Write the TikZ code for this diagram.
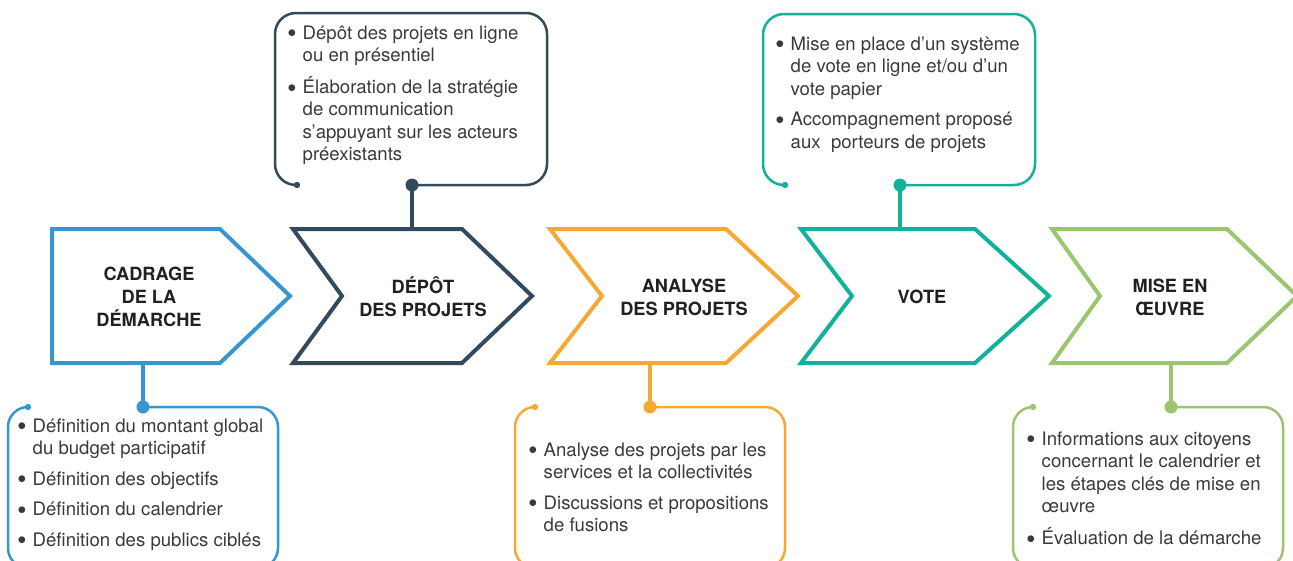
\documentclass[tikz,border=0pt]{standalone}
\usepackage{fontspec}
\setmainfont{TeX Gyre Heros}
\definecolor{cbleu}{HTML}{3597CD}
\definecolor{cmarine}{HTML}{33495C}
\definecolor{corange}{HTML}{F7A833}
\definecolor{cturq}{HTML}{12B29A}
\definecolor{cvert}{HTML}{9DC46E}
\definecolor{titre}{HTML}{231F20}
\definecolor{txt}{HTML}{3A3A3A}
\newcommand{\blt}{\makebox[13.5pt][l]{\hspace{-1.5pt}\raisebox{1.2pt}{$\bullet$}}}
\begin{document}
\begin{tikzpicture}[x = 1pt, y = -1pt,
    chevron/.style = {line width = 4pt, line join = miter},
    boite/.style = {line width = 2.5pt, rounded corners = 20pt},
    lien/.style = {line width = 3.5pt},
    etape/.style = {font = \fontsize{18.2}{23}\selectfont\bfseries, align = center, text = titre},
    liste/.style = {anchor = base west, inner sep = 0pt, font = \fontsize{18.6}{22.5}\selectfont, text = txt}]
                \clip (0, 0) rectangle (1293, 560);
                \draw[chevron, cbleu] (52, 229) -- (220, 229) -- (290, 296) -- (220, 363) -- (52, 363) -- cycle;
                \draw[chevron, cmarine] (293, 229) -- (462, 229) -- (532, 296) -- (462, 363) -- (293, 363) -- (342, 296) -- cycle;
                \draw[chevron, corange] (550, 229) -- (726, 229) -- (798, 296) -- (726, 363) -- (550, 363) -- (602, 296) -- cycle;
                \draw[chevron, cturq] (801, 229) -- (975, 229) -- (1049, 296) -- (975, 363) -- (801, 363) -- (852, 296) -- cycle;
                \draw[chevron, cvert] (1052, 229) -- (1227, 229) -- (1297, 296) -- (1227, 363) -- (1052, 363) -- (1100, 296) -- cycle;
                \node[etape] (cadrage) at (149, 297) {CADRAGE\\DE LA\\DÉMARCHE};
                \node[etape] (depot) at (423, 297) {DÉPÔT\\DES PROJETS};
                \node[etape] (analyse) at (684, 297) {ANALYSE\\DES PROJETS};
                \node[etape] (vote) at (922, 297) {VOTE};
                \node[etape] (mise) at (1170, 297) {MISE EN\\ŒUVRE};
                \coordinate (b1) at (143, 363); \coordinate (p1) at (143, 407);
                \coordinate (b2) at (412, 229); \coordinate (p2) at (412, 185);
                \coordinate (b3) at (650, 363); \coordinate (p3) at (650, 407);
                \coordinate (b4) at (900, 229); \coordinate (p4) at (900, 185);
                \coordinate (b5) at (1171, 363); \coordinate (p5) at (1171, 407);
                \draw[lien, cbleu] (b1) -- (p1);
                \draw[lien, cmarine] (b2) -- (p2);
                \draw[lien, corange] (b3) -- (p3);
                \draw[lien, cturq] (b4) -- (p4);
                \draw[lien, cvert] (b5) -- (p5);
                \draw[boite, cbleu] (p1) -- (278, 407) -- (278, 568) -- (8, 568) -- (8, 407) -- (28, 407) coordinate (q1);
                \draw[boite, cmarine, rounded corners = 21pt] (p2) -- (547, 185) -- (547, 13) -- (275, 13) -- (275, 185) -- (297, 185) coordinate (q2);
                \draw[boite, corange] (p3) -- (785, 407) -- (785, 568) -- (515, 568) -- (515, 407) -- (535, 407) coordinate (q3);
                \draw[boite, cturq, rounded corners = 21pt] (p4) -- (1035, 185) -- (1035, 14) -- (763, 14) -- (763, 185) -- (785, 185) coordinate (q4);
                \draw[boite, cvert] (p5) -- (1283, 407) -- (1283, 568) -- (1013, 568) -- (1013, 407) -- (1033, 407) coordinate (q5);
                \fill[cbleu] (p1) circle (6.5pt) (q1) circle (3.2pt);
                \fill[cmarine] (p2) circle (6.5pt) (q2) circle (3.2pt);
                \fill[corange] (p3) circle (6.5pt) (q3) circle (3.2pt);
                \fill[cturq] (p4) circle (6.5pt) (q4) circle (3.2pt);
                \fill[cvert] (p5) circle (6.5pt) (q5) circle (3.2pt);
                \node[liste] (l1) at (19, 432) {\begin{tabular}[t]{@{}l@{}l@{}}
                    \blt & Définition du montant global\\ & du budget participatif\\[8pt]
                    \blt & Définition des objectifs\\[8pt]
                    \blt & Définition du calendrier\\[8pt]
                    \blt & Définition des publics ciblés
                    \end{tabular}};
                \node[liste] (l2) at (289, 39) {\begin{tabular}[t]{@{}l@{}l@{}}
                    \blt & Dépôt des projets en ligne\\ & ou en présentiel\\[8pt]
                    \blt & Élaboration de la stratégie\\ & de communication\\ & s’appuyant sur les acteurs\\ & préexistants
                    \end{tabular}};
                \node[liste] (l3) at (530, 456) {\begin{tabular}[t]{@{}l@{}l@{}}
                    \blt & Analyse des projets par les\\ & services et la collectivités\\[8pt]
                    \blt & Discussions et propositions\\ & de fusions
                    \end{tabular}};
                \node[liste] (l4) at (777, 50) {\begin{tabular}[t]{@{}l@{}l@{}}
                    \blt & Mise en place d’un système\\ & de vote en ligne et/ou d’un\\ & vote papier\\[8pt]
                    \blt & Accompagnement proposé\\ & aux\ \ porteurs de projets
                    \end{tabular}};
                \node[liste] (l5) at (1028, 445) {\begin{tabular}[t]{@{}l@{}l@{}}
                    \blt & Informations aux citoyens\\ & concernant le calendrier et\\ & les étapes clés de mise en\\ & œuvre\\[8pt]
                    \blt & Évaluation de la démarche
                    \end{tabular}};
            \end{tikzpicture}
\end{document}
